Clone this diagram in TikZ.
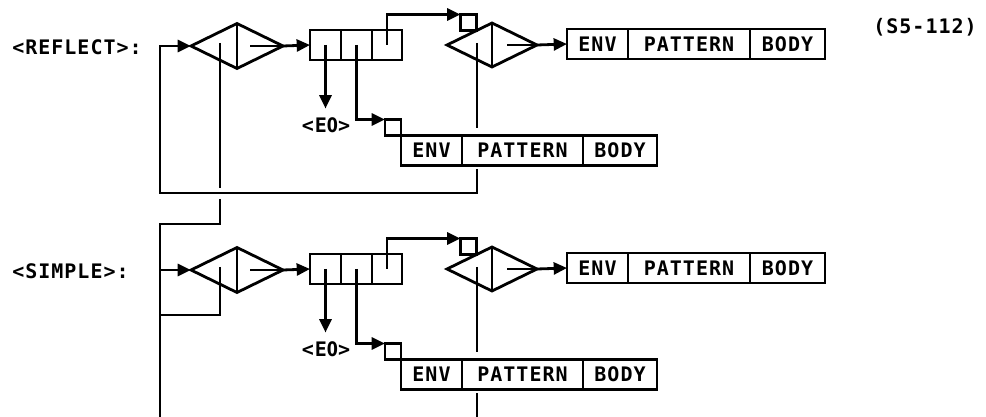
\documentclass[tikz,border=0pt]{standalone}
\usepackage{fontspec}
\newfontfamily\dmono{DejaVu Sans Mono}[LetterSpace=5]
\newfontfamily\dsans{DejaVu Sans}[FakeStretch=0.8]
\usetikzlibrary{arrows.meta,shapes.geometric,calc}
\def\pxu{0.75pt}
\newcommand\zr{{\dsans 0}}
\tikzset{
  ln/.style={line width=2.1pt, line join=miter},
  arr/.style={ln, -{Triangle[length=10pt,width=9pt]}},
  txt/.style={font=\dmono\bfseries\fontsize{15}{18}\selectfont, inner sep=0pt},
  cell/.style={draw, line width=2.1pt, minimum height=30*\pxu, inner sep=0pt, outer sep=0pt,
               font=\dmono\bfseries\fontsize{15}{18}\selectfont, anchor=west},
  dia/.style={draw, diamond, line width=2.1pt, inner sep=0pt, outer sep=0pt,
              minimum width=92*\pxu, minimum height=45*\pxu},
  sq/.style={draw, line width=2.1pt, minimum size=16*\pxu, inner sep=0pt, outer sep=0pt}
}
\begin{document}
\begin{tikzpicture}[x=0.75pt, y=-0.75pt]
\useasboundingbox (0,0) rectangle (986,417);

\node[txt] (code) at (925,27) {(S5-112)};

\foreach \r/\dy/\lab in {a/0/REFLECT, b/224/SIMPLE}{
  % label
  \node[txt, anchor=west] (lab\r) at (12,47+\dy) {<\lab>:};
  % first test diamond
  \node[dia] (da\r) at (237,46+\dy) {};
  \draw[ln] (da\r.north) -- (da\r.south);
  \draw[ln] (250,46+\dy) -- (da\r.east);
  % record of three cells
  \node[cell, minimum width=31*\pxu] (ra\r) at (310,45+\dy) {};
  \node[cell, minimum width=31*\pxu] (rb\r) at (ra\r.east) {};
  \node[cell, minimum width=30*\pxu] (rc\r) at (rb\r.east) {};
  \draw[arr] (da\r.east) -- (ra\r.west);
  % <E0>
  \node[txt] (eo\r) at (326,125+\dy) {<E\zr>};
  \draw[arr, shorten >=6.5pt] (ra\r.center) -- (ra\r.center |- eo\r.north);
  % lower ENV PATTERN BODY
  \node[sq] (sa\r) at (393,127.5+\dy) {};
  \node[cell, anchor=north west, minimum width=61*\pxu] (le\r) at (sa\r.south east) {ENV};
  \node[cell, minimum width=121*\pxu] (lp\r) at (le\r.east) {PATTERN};
  \node[cell, minimum width=74*\pxu] (lb\r) at (lp\r.east) {BODY};
  \draw[arr] (rb\r.center) |- (sa\r.north west);
  % second test diamond
  \node[sq] (sb\r) at (468.5,22.5+\dy) {};
  \node[dia, minimum width=90*\pxu, minimum height=44*\pxu] (db\r) at (492,45+\dy) {};
  \draw[ln] (db\r.north) -- (db\r.south);
  \draw[ln] (507,45+\dy) -- (db\r.east);
  \draw[arr] (rc\r.center) |- (sb\r.north west);
  \draw[ln] (477,43+\dy) -- (477,128+\dy);
  % upper ENV PATTERN BODY
  \node[cell, minimum width=61*\pxu] (te\r) at (567,44+\dy) {ENV};
  \node[cell, minimum width=122*\pxu] (tp\r) at (te\r.east) {PATTERN};
  \node[cell, minimum width=75*\pxu] (tb\r) at (tp\r.east) {BODY};
  \draw[arr] (db\r.east) -- (te\r.west);
}

% REFLECT wiring
\coordinate (la) at (477,169);
\coordinate (lb) at (477,193);
\coordinate (lc) at (160,193);
\coordinate (ld) at (160,46);
\draw[arr] (la) -- (lb) -- (lc) -- (ld) -- (daa.west);
\coordinate (fa) at (220,43);
\coordinate (fb) at (220,188);
\coordinate (fc) at (220,199);
\coordinate (fd) at (220,224);
\coordinate (fe) at (160,224);
\coordinate (ff) at (160,417);
\draw[ln] (fa) -- (fb);
\draw[ln] (fc) -- (fd) -- (fe) -- (ff);

% SIMPLE wiring
\coordinate (sa) at (160,270);
\draw[arr] (sa) -- (dab.west);
\coordinate (ga) at (220,267);
\coordinate (gb) at (220,315);
\coordinate (gc) at (160,315);
\draw[ln] (ga) -- (gb) -- (gc);
\coordinate (ha) at (477,393);
\coordinate (hb) at (477,417);
\draw[ln] (ha) -- (hb);
\end{tikzpicture}
\end{document}
